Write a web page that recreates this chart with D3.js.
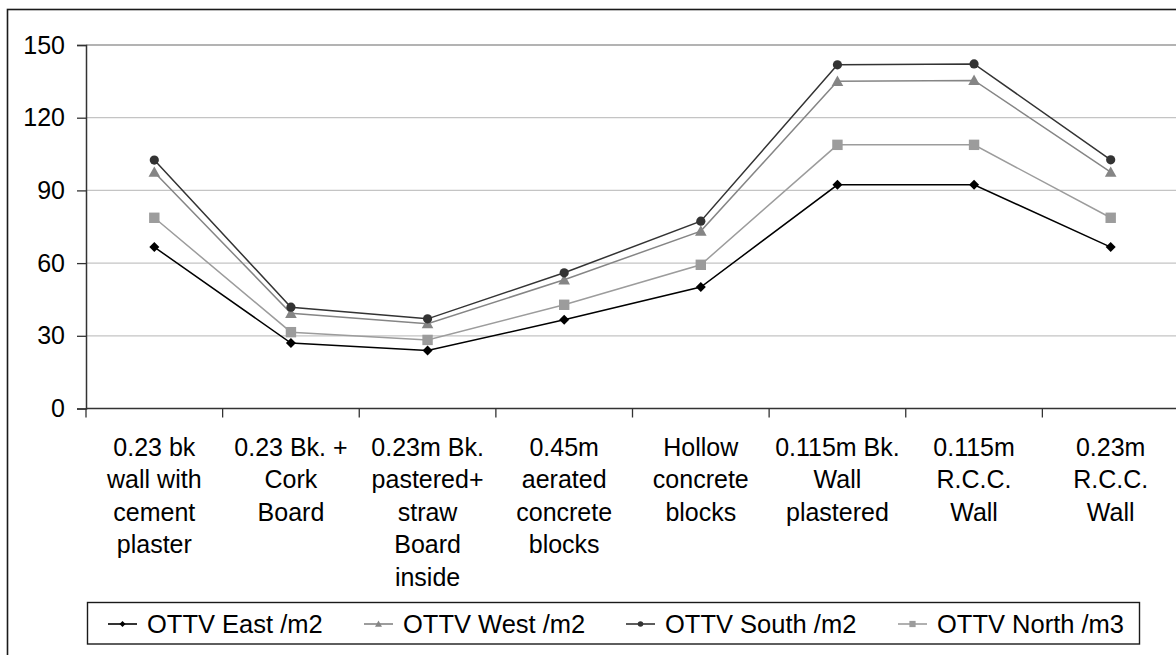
<!DOCTYPE html>
<html>
<head>
<meta charset="utf-8">
<script src="https://cdn.jsdelivr.net/npm/d3@7"></script>
<style>
body { margin: 0; background: #fff; }
svg { display: block; font-family: Arial, "Liberation Sans", sans-serif; }
</style>
</head>
<body>
<svg id="chart" width="1176" height="655"></svg>
<script>
const categories = [
  ["0.23 bk", "wall with", "cement", "plaster"],
  ["0.23 Bk. +", "Cork", "Board"],
  ["0.23m Bk.", "pastered+", "straw", "Board", "inside"],
  ["0.45m", "aerated", "concrete", "blocks"],
  ["Hollow", "concrete", "blocks"],
  ["0.115m Bk.", "Wall", "plastered"],
  ["0.115m", "R.C.C.", "Wall"],
  ["0.23m", "R.C.C.", "Wall"]
];
const seriesNames = ["OTTV East /m2", "OTTV West /m2", "OTTV South /m2", "OTTV North /m3"];
const eastValues  = [66.6, 27.0, 23.9, 36.6, 50.1, 92.3, 92.3, 66.6];
const westValues  = [97.5, 39.3, 35.0, 53.1, 73.2, 135.0, 135.4, 97.5];
const southValues = [102.5, 41.8, 37.0, 56.0, 77.3, 141.8, 142.2, 102.6];
const northValues = [78.7, 31.5, 28.3, 42.8, 59.3, 108.8, 108.8, 78.7];
const yTicks = [0, 30, 60, 90, 120, 150];

const series = [
  { name: seriesNames[0], values: eastValues,  color: "#000000", marker: "diamond" },
  { name: seriesNames[1], values: westValues,  color: "#858585", marker: "triangle" },
  { name: seriesNames[2], values: southValues, color: "#333333", marker: "circle" },
  { name: seriesNames[3], values: northValues, color: "#9c9c9c", marker: "square" }
];

const FS = 25;
const svg = d3.select("#chart");
const plotLeft = 86, plotRight = 1179, plotTop = 45, plotBottom = 408.5;

// outer frame
svg.append("rect").attr("x", 7.5).attr("y", 9.5).attr("width", 1300).attr("height", 800)
  .attr("fill", "none").attr("stroke", "#1a1a1a").attr("stroke-width", 1.6);

const x = d3.scaleBand().domain(d3.range(categories.length)).range([plotLeft, plotRight]).padding(0);
const y = d3.scaleLinear().domain([0, 150]).range([plotBottom, plotTop]);

// gridlines
svg.append("g").selectAll("line").data(yTicks.filter(d => d > 0)).join("line")
  .attr("x1", plotLeft).attr("x2", 1176)
  .attr("y1", d => y(d)).attr("y2", d => y(d))
  .attr("stroke", d => d === 150 ? "#9a9a9a" : "#c4c4c4").attr("stroke-width", 1.3);

// y axis
const yAxis = svg.append("g").attr("transform", `translate(${plotLeft},0)`)
  .call(d3.axisLeft(y).tickValues(yTicks).tickSize(9).tickPadding(12));
yAxis.select(".domain").attr("stroke", "#333").attr("stroke-width", 1.5);
yAxis.selectAll(".tick line").attr("stroke", "#333").attr("stroke-width", 1.3);
yAxis.selectAll(".tick text").attr("font-size", FS).attr("fill", "#000")
  .attr("font-family", "Arial, 'Liberation Sans', sans-serif");

// x axis
svg.append("line").attr("x1", plotLeft).attr("x2", 1176).attr("y1", plotBottom).attr("y2", plotBottom)
  .attr("stroke", "#333").attr("stroke-width", 1.5);
const boundaries = d3.range(categories.length + 1).map(i => i < categories.length ? x(i) : x(i - 1) + x.bandwidth());
svg.append("g").selectAll("line").data(boundaries).join("line")
  .attr("x1", d => d).attr("x2", d => d).attr("y1", plotBottom).attr("y2", plotBottom + 9)
  .attr("stroke", "#333").attr("stroke-width", 1.3);

const cx = i => x(i) + x.bandwidth() / 2;

// category labels
const lab = svg.append("g").attr("font-size", FS).attr("fill", "#000").attr("text-anchor", "middle");
categories.forEach((lines, i) => {
  const t = lab.append("text").attr("x", cx(i)).attr("y", 455.5);
  lines.forEach((ln, j) => {
    t.append("tspan").attr("x", cx(i)).attr("dy", j === 0 ? 0 : 32.5).text(ln);
  });
});

// marker drawing
function drawMarker(g, type, color, px, py, s) {
  if (type === "circle") {
    g.append("circle").attr("cx", px).attr("cy", py).attr("r", 4.6 * s).attr("fill", color);
  } else if (type === "diamond") {
    const r = 5 * s;
    g.append("path").attr("d", `M${px},${py - r}L${px + r},${py}L${px},${py + r}L${px - r},${py}Z`).attr("fill", color);
  } else if (type === "square") {
    const r = 5.2 * s;
    g.append("rect").attr("x", px - r).attr("y", py - r).attr("width", 2 * r).attr("height", 2 * r).attr("fill", color);
  } else if (type === "triangle") {
    const r = 5.8 * s;
    g.append("path").attr("d", `M${px},${py - r}L${px + r},${py + r * 0.8}L${px - r},${py + r * 0.8}Z`).attr("fill", color);
  }
}

const line = d3.line().x((d, i) => cx(i)).y(d => y(d));
const plot = svg.append("g");
[3, 1, 0, 2].forEach(k => {
  const s = series[k];
  plot.append("path").attr("d", line(s.values)).attr("fill", "none")
    .attr("stroke", s.color).attr("stroke-width", 1.5);
});
[3, 1, 0, 2].forEach(k => {
  const s = series[k];
  s.values.forEach((v, i) => drawMarker(plot, s.marker, s.color, cx(i), y(v), 1));
});

// legend
const lg = svg.append("g");
lg.append("rect").attr("x", 87.5).attr("y", 602.5).attr("width", 1052).attr("height", 41.5)
  .attr("fill", "#fff").attr("stroke", "#1a1a1a").attr("stroke-width", 1.4);
const legendX = [108, 364, 626, 898];
series.forEach((s, k) => {
  const lx = legendX[k], ly = 624;
  lg.append("line").attr("x1", lx).attr("x2", lx + 29).attr("y1", ly).attr("y2", ly)
    .attr("stroke", s.color).attr("stroke-width", 1.6);
  drawMarker(lg, s.marker, s.color, lx + 14.5, ly, 0.6);
  lg.append("text").attr("x", lx + 39).attr("y", ly + 9).attr("font-size", FS + 0.5).attr("fill", "#000").text(s.name);
});
</script>
</body>
</html>
